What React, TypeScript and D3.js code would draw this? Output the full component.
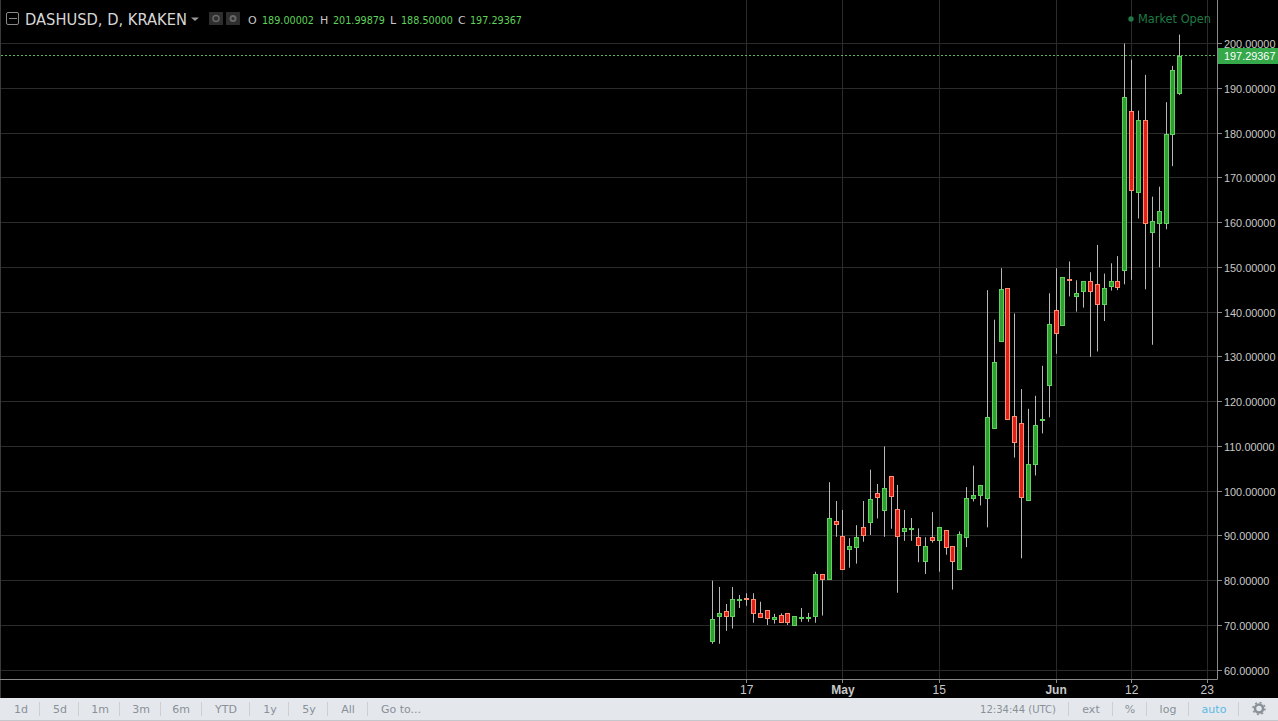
import * as d3 from "d3";

const startDate = new Date(Date.UTC(2017, 3, 12));

// candles, one per day from Apr 12
const opens = [66.6,72.0,73.2,72.0,75.6,76.1,75.9,72.7,73.4,71.5,72.3,72.7,70.0,71.7,71.7,72.2,81.5,80.3,93.3,90.0,87.0,87.6,92.0,93.0,99.5,95.7,103.3,96.0,91.0,91.5,89.7,84.5,89.7,89.0,91.3,87.7,82.7,89.7,98.4,99.1,98.4,114.0,133.6,145.3,116.8,115.2,98.0,106.0,115.8,123.8,140.4,137.2,147.5,143.5,144.8,146.9,146.3,141.8,145.9,146.9,149.4,184.9,166.8,182.9,157.9,160.0,160.0,179.8,189.0];
const closes = [71.4,72.75,72.0,75.9,75.9,75.9,72.7,71.8,71.6,71.8,70.8,70.7,72.1,71.9,71.9,81.5,80.3,94.0,92.6,82.7,87.7,89.7,90.1,98.2,98.7,100.7,99.0,89.9,91.7,91.7,87.9,87.7,89.0,92.0,87.6,84.5,90.4,98.5,99.1,101.4,116.5,128.8,145.1,116.2,110.9,98.6,106.0,114.8,116.1,137.3,135.4,147.8,147.2,144.2,146.9,144.8,141.8,145.4,146.9,145.7,188.0,167.2,182.9,160.0,160.4,162.6,179.8,194.1,197.29367];
const highs = [80.0,78.6,74.8,78.6,76.8,77.2,77.2,75.3,73.4,72.6,72.7,72.7,72.1,73.9,72.8,82.0,81.5,102.0,97.8,95.8,89.5,92.4,97.8,104.8,101.6,110.0,103.3,101.4,95.8,94.0,91.7,89.7,95.3,92.0,91.3,87.7,91.0,100.9,105.7,101.4,144.9,138.3,149.8,145.3,139.7,122.8,118.4,121.3,128.0,144.2,149.8,147.8,151.3,147.1,146.9,148.9,155.0,148.6,150.9,152.5,200.0,196.4,185.0,193.0,165.8,168.0,186.9,195.0,201.99879];
const lows = [65.9,65.9,68.8,69.3,73.9,74.4,70.6,71.7,70.1,70.4,70.6,70.1,70.0,70.8,70.8,70.6,72.2,80.3,89.8,82.7,82.9,83.8,88.7,90.2,93.9,89.8,91.6,77.3,88.9,88.9,84.1,81.5,88.5,82.0,85.8,78.0,82.6,87.5,97.7,96.8,91.9,114.0,133.6,115.9,107.5,85.0,98.0,103.5,112.9,116.5,130.7,137.0,143.5,140.1,141.0,130.0,131.2,138.0,144.8,144.9,146.2,147.2,160.9,145.1,132.7,150.0,158.5,172.6,188.5];

const priceTicks = [200,190,180,170,160,150,140,130,120,110,100,90,80,70,60];
const dateTicks = [
  { date: new Date(Date.UTC(2017, 3, 17)), label: "17", bold: false },
  { date: new Date(Date.UTC(2017, 4, 1)), label: "May", bold: true },
  { date: new Date(Date.UTC(2017, 4, 15)), label: "15", bold: false },
  { date: new Date(Date.UTC(2017, 5, 1)), label: "Jun", bold: true },
  { date: new Date(Date.UTC(2017, 5, 12)), label: "12", bold: false },
  { date: new Date(Date.UTC(2017, 5, 23)), label: "23", bold: false },
];
const lastPrice = 197.29367;

const rangeButtons = ["1d","5d","1m","3m","6m","YTD","1y","5y","All","Go to..."];
const rangeX = [21,60,100,141,181,226,270,309,348,401];
const rangeSeps = [39,78,119,160,201,249,288,327,367];
const rightButtons = ["ext","%","log","auto"];
const rightX = [1091,1130,1168,1214];
const rightSeps = [1068,1112,1146,1188,1238];
const ohlc = [
  { k: "O", v: "189.00002", kx: 248, vx: 262 },
  { k: "H", v: "201.99879", kx: 320, vx: 333 },
  { k: "L", v: "188.50000", kx: 390, vx: 401 },
  { k: "C", v: "197.29367", kx: 458, vx: 470 },
];

const W = 1278;
const H = 721;
const axisX = 1217;
const axisY = 679;
const sans = '"DejaVu Sans", Verdana, sans-serif';
const arial = '"Liberation Sans", Arial, sans-serif';

export default function App() {
  const x = d3
    .scaleUtc()
    .domain([startDate, new Date(Date.UTC(2017, 5, 23))])
    .range([712.3, 1207.3]);
  const y = d3.scaleLinear().domain([200, 60]).range([43.5, 670.2]);

  const candles = opens.map((o, i) => ({
    date: d3.utcDay.offset(startDate, i),
    o,
    c: closes[i],
    h: highs[i],
    l: lows[i],
  }));

  return (
    <svg
      width={W}
      height={H}
      style={{ position: "fixed", left: 0, top: 0, display: "block", background: "#000" }}
    >
      <rect x={0} y={0} width={W} height={H} fill="#000" />
      <rect x={0} y={0} width={1} height={698} fill="#3a3a3a" />

      {priceTicks.map((t) => (
        <line key={t} x1={1} x2={axisX} y1={Math.floor(y(t)) + 0.5} y2={Math.floor(y(t)) + 0.5} stroke="#2b2b2b" />
      ))}
      {dateTicks.map((t) => (
        <line key={t.label} x1={Math.floor(x(t.date)) + 0.5} x2={Math.floor(x(t.date)) + 0.5} y1={0} y2={axisY} stroke="#2b2b2b" />
      ))}

      {candles.map((d, i) => {
        const cx = Math.floor(x(d.date)) + 0.5;
        const up = d.c >= d.o;
        const top = Math.round(y(Math.max(d.o, d.c)));
        const bot = Math.round(y(Math.min(d.o, d.c)));
        return (
          <g key={i}>
            <line x1={cx} x2={cx} y1={y(d.h)} y2={y(d.l)} stroke="#b8b8b8" />
            <rect
              x={cx - 2}
              y={top + 0.5}
              width={4}
              height={Math.max(bot - top, 1)}
              fill={up ? "#2f9e33" : "#e0201a"}
              stroke={up ? "#5fd35a" : "#ff8f6e"}
            />
          </g>
        );
      })}

      <line x1={1} x2={axisX} y1={Math.floor(y(lastPrice)) + 0.5} y2={Math.floor(y(lastPrice)) + 0.5} stroke="#5cb85c" strokeDasharray="2 2" />

      <line x1={0} x2={axisX + 0.5} y1={axisY + 0.5} y2={axisY + 0.5} stroke="#8a8a8a" />
      <line x1={axisX + 0.5} x2={axisX + 0.5} y1={0} y2={axisY + 0.5} stroke="#8a8a8a" />

      {priceTicks.map((t) => (
        <g key={t}>
          <line x1={axisX} x2={axisX + 5} y1={Math.floor(y(t)) + 0.5} y2={Math.floor(y(t)) + 0.5} stroke="#8a8a8a" />
          <text x={1224} y={y(t) + 4.5} fontFamily={arial} fontSize={10.9} fill="#c8c8c8">
            {t.toFixed(5)}
          </text>
        </g>
      ))}
      <rect x={axisX + 1} y={48} width={W - axisX - 1} height={16} fill="#35a84a" />
      <text x={1224} y={60} fontFamily={arial} fontSize={10.9} fill="#fff">
        {lastPrice.toFixed(5)}
      </text>

      {dateTicks.map((t) => (
        <g key={t.label}>
          <line x1={Math.floor(x(t.date)) + 0.5} x2={Math.floor(x(t.date)) + 0.5} y1={axisY} y2={axisY + 4} stroke="#8a8a8a" />
          <text x={x(t.date)} y={693.5} textAnchor="middle" fontFamily={arial} fontSize={12} fontWeight={t.bold ? 700 : 400} fill="#c8c8c8">
            {t.label}
          </text>
        </g>
      ))}

      {/* header */}
      <rect x={6.5} y={12.5} width={12} height={12} rx={1.5} fill="none" stroke="#8a8a8a" />
      <line x1={9} x2={17} y1={18.5} y2={18.5} stroke="#8a8a8a" />
      <text x={25} y={25} fontFamily={sans} fontSize={15} fill="#d6d6d6" textLength={162} lengthAdjust="spacingAndGlyphs">DASHUSD, D, KRAKEN</text>
      <path d="M191,17.5 h8 l-4,3.5 z" fill="#9a9a9a" />
      <rect x={209} y={12} width={14} height={13} fill="#2e2e2e" />
      <circle cx={216} cy={18.5} r={3} fill="none" stroke="#666" strokeWidth={1.5} />
      <rect x={226} y={12} width={14} height={13} fill="#2e2e2e" />
      <circle cx={233} cy={18.5} r={3.5} fill="#666" />
      <circle cx={233} cy={18.5} r={1.5} fill="#2e2e2e" />
      {ohlc.map((d) => (
        <g key={d.k} fontFamily={sans} fontSize={11}>
          <text x={d.kx} y={23.5} fill="#c8c8c8">{d.k}</text>
          <text x={d.vx} y={23.5} fill="#5fd35a" textLength={52} lengthAdjust="spacingAndGlyphs">{d.v}</text>
        </g>
      ))}
      <circle cx={1131} cy={19} r={2.7} fill="#1f7a45" />
      <text x={1138} y={23} fontFamily={sans} fontSize={11.5} fill="#1f7a45" textLength={73} lengthAdjust="spacingAndGlyphs">Market Open</text>

      {/* bottom toolbar */}
      <rect x={0} y={698} width={W} height={23} fill="#e4e8ec" />
      <rect x={0} y={720} width={W} height={1} fill="#c4c8cc" />
      {rangeButtons.map((b, i) => (
        <text key={b} x={rangeX[i]} y={713} textAnchor="middle" fontFamily={sans} fontSize={11} fill="#8a9098">{b}</text>
      ))}
      {rangeSeps.map((s) => (
        <line key={s} x1={s + 0.5} x2={s + 0.5} y1={702} y2={716} stroke="#ccd0d4" />
      ))}
      <text x={980} y={713} fontFamily={sans} fontSize={11} fill="#8a9098" textLength={76} lengthAdjust="spacingAndGlyphs">12:34:44 (UTC)</text>
      {rightButtons.map((b, i) => (
        <text key={b} x={rightX[i]} y={713} textAnchor="middle" fontFamily={sans} fontSize={11} fill={b === "auto" ? "#5cb8e6" : "#8a9098"}>{b}</text>
      ))}
      {rightSeps.map((s) => (
        <line key={s} x1={s + 0.5} x2={s + 0.5} y1={702} y2={716} stroke="#ccd0d4" />
      ))}
      <circle cx={1259} cy={708.5} r={4} fill="none" stroke="#8a9098" strokeWidth={2.5} />
      <circle cx={1259} cy={708.5} r={6} fill="none" stroke="#8a9098" strokeWidth={1.5} strokeDasharray="2 2.7" />
    </svg>
  );
}
